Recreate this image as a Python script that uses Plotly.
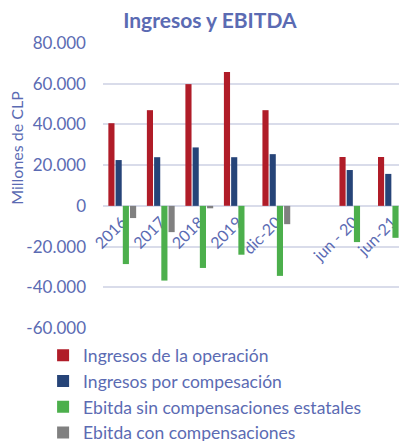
import plotly.graph_objects as go

categories = ["2016", "2017", "2018", "2019", "dic-20", " ", "jun - 20", "jun-21"]
ingresos_operacion = [40600, 47000, 59800, 65700, 47000, None, 24000, 24000]
ingresos_compensacion = [22500, 23900, 28700, 23900, 25400, None, 17600, 15700]
ebitda_sin = [-28600, -36700, -30500, -24000, -34400, None, -17800, -15700]
ebitda_con = [-6000, -12900, -1200, 0, -9000, None, 0, 0]
y_ticks = [-60000, -40000, -20000, 0, 20000, 40000, 60000, 80000]
y_labels = ["-60.000", "-40.000", "-20.000", "0", "20.000", "40.000", "60.000", "80.000"]

txt = "#5b6bb3"
font = "Lato, 'Open Sans', sans-serif"

fig = go.Figure()
series = [
    ("Ingresos de la operación", ingresos_operacion, "#b01c28"),
    ("Ingresos por compesación", ingresos_compensacion, "#264478"),
    ("Ebitda sin compensaciones estatales", ebitda_sin, "#4caf4c"),
    ("Ebitda con compensaciones", ebitda_con, "#808080"),
]
for name, vals, col in series:
    fig.add_trace(go.Bar(x=categories, y=vals, name=name, marker=dict(color=col, line=dict(width=0))))

fig.update_layout(
    width=407, height=441,
    margin=dict(l=95, r=0, t=35, b=121, autoexpand=False),
    paper_bgcolor="white", plot_bgcolor="white",
    barmode="group", bargap=0.25, bargroupgap=0.15,
    font=dict(family=font, color=txt, size=16),
    title=dict(text="<b>Ingresos y EBITDA</b>", x=0.496, xanchor="center", y=0.972, yanchor="middle",
               font=dict(size=21, color=txt, family=font)),
    xaxis=dict(type="category", categoryorder="array", categoryarray=categories,
               range=[-0.5, 7.6], anchor="free", position=60/140, showgrid=False,
               showline=False, ticks="", tickangle=-45, automargin=False, layer="below traces",
               ticklabelstandoff=3, tickfont=dict(size=16, color=txt)),
    yaxis=dict(range=[-60000, 80000], tickvals=y_ticks, ticktext=y_labels, showgrid=True,
               gridcolor="#d9dcea", gridwidth=1.5, zeroline=False, ticks="", automargin=False,
               ticklabelstandoff=16, tickfont=dict(size=17, color=txt)),
    legend=dict(orientation="v", x=-0.192, xanchor="left", y=-0.033, yanchor="top",
                font=dict(size=17.5, color=txt), tracegroupgap=0, itemwidth=30),
    showlegend=True,
)
fig.add_annotation(text="Millones de CLP", textangle=-90, xref="paper", yref="paper",
                   x=-0.276, y=0.632, showarrow=False, font=dict(size=16, color=txt),
                   xanchor="center", yanchor="middle")
fig.write_html("out.html")
